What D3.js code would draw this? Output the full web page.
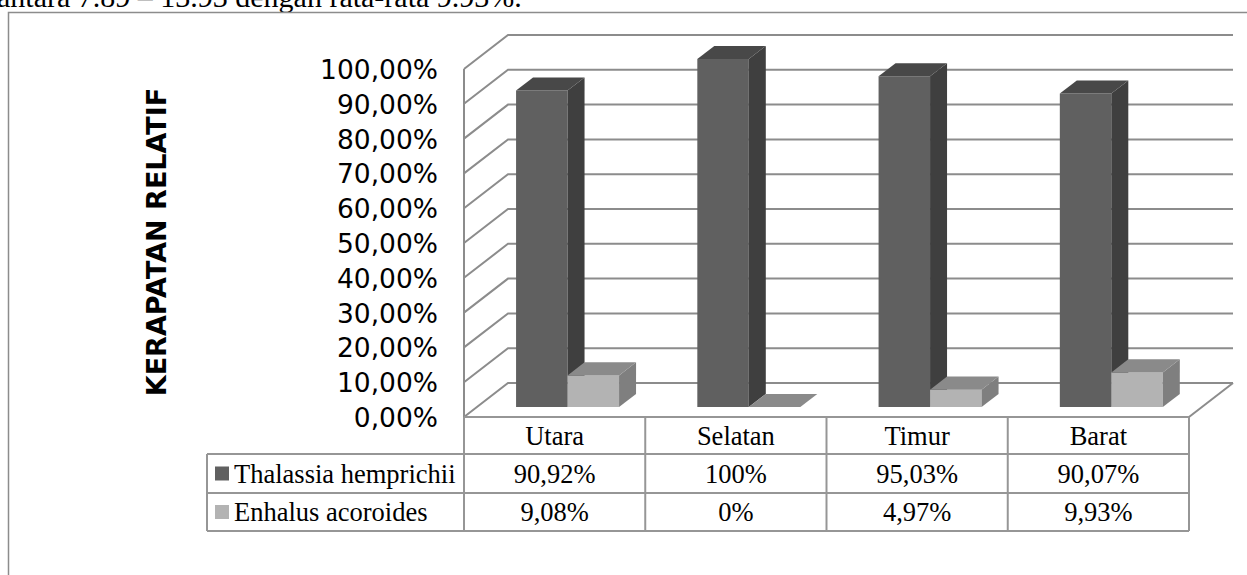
<!DOCTYPE html>
<html>
<head>
<meta charset="utf-8">
<script src="https://cdn.jsdelivr.net/npm/d3@7"></script>
<style>
  body { margin: 0; background: #fff; }
  svg { display: block; }
</style>
</head>
<body>
<div id="chart"></div>
<script>
// data
var categories = ["Utara", "Selatan", "Timur", "Barat"];
var seriesNames = ["Thalassia hemprichii", "Enhalus acoroides"];
var thalassia = [90.92, 100, 95.03, 90.07];
var enhalus = [9.08, 0, 4.97, 9.93];
var yTicks = [0, 10, 20, 30, 40, 50, 60, 70, 80, 90, 100];

var W = 1247, H = 575;

var svg = d3.select("#chart").append("svg")
    .attr("width", W)
    .attr("height", H);

// text of the page above the figure (cut off)
svg.append("text")
    .attr("x", -3)
    .attr("y", 7)
    .attr("font-family", "Liberation Serif, Times New Roman, serif")
    .attr("font-size", "30px")
    .text("antara 7.89 \u2013 13.93 dengan rata-rata 9.93%.");

// outer frame
svg.append("rect")
    .attr("x", 8.5).attr("y", 12.5)
    .attr("width", 1260).attr("height", 600)
    .attr("fill", "none")
    .attr("stroke", "#8c8c8c")
    .attr("stroke-width", 1.5);

// 3d layout
var plot = { left: 464, right: 1189, base: 417, height: 348 };
var depth = { dx: 44, dy: -34 };

function px(x, d) { return x + d * depth.dx; }
function py(h, d) { return plot.base - h + d * depth.dy; }

var y = d3.scaleLinear().domain([0, 100]).range([0, plot.height]);

var x = d3.scaleBand()
    .domain(categories)
    .range([plot.left, plot.right])
    .padding(0);

var xs = d3.scaleBand()
    .domain(seriesNames)
    .range([0, x.bandwidth()])
    .paddingInner(0)
    .paddingOuter(0.76);

var gridColor = "#8c8c8c";

// walls + gridlines
var grid = svg.append("g");
yTicks.forEach(function(t){
  var h = y(t);
  grid.append("path")
      .attr("d", "M" + px(plot.left, 0) + "," + py(h, 0) +
                 "L" + px(plot.left, 1) + "," + py(h, 1) +
                 "L" + px(plot.right, 1) + "," + py(h, 1))
      .attr("fill", "none")
      .attr("stroke", gridColor)
      .attr("stroke-width", 2);
});
// left wall front edge
grid.append("line")
    .attr("x1", plot.left).attr("x2", plot.left)
    .attr("y1", py(y(100), 0)).attr("y2", py(0, 0))
    .attr("stroke", gridColor).attr("stroke-width", 2);
// floor right edge
grid.append("line")
    .attr("x1", px(plot.right, 0)).attr("y1", py(0, 0))
    .attr("x2", px(plot.right, 1)).attr("y2", py(0, 1))
    .attr("stroke", gridColor).attr("stroke-width", 2);

// y tick labels
svg.append("g").selectAll("text")
    .data(yTicks)
    .enter().append("text")
    .attr("x", 438)
    .attr("y", function(d){ return py(y(d), 0) + 10; })
    .attr("text-anchor", "end")
    .attr("font-family", "DejaVu Sans, Verdana, sans-serif")
    .attr("font-size", "26.5px")
    .attr("fill", "#000")
    .text(function(d){ return d + ",00%"; });

// y title
svg.append("text")
    .attr("transform", "translate(166,242) rotate(-90)")
    .attr("text-anchor", "middle")
    .attr("font-family", "DejaVu Sans, Verdana, sans-serif")
    .attr("font-weight", "bold")
    .attr("font-size", "27px")
    .text("KERAPATAN RELATIF");

// bars
var d0 = 0.294, d1 = 0.68;
var colors = [
  { front: "#606060", side: "#3f3f3f", top: "#484848" },
  { front: "#b3b3b3", side: "#7f7f7f", top: "#8a8a8a" }
];
var seriesValues = [thalassia, enhalus];

var bars = svg.append("g");
categories.forEach(function(cat, i){
  seriesNames.forEach(function(s, j){
    var v = seriesValues[j][i];
    var c = colors[j];
    var xl = x(cat) + xs(s), xr = xl + xs.bandwidth();
    var h = y(v);
    var g = bars.append("g");
    if (h > 0) {
      // front face
      g.append("path")
          .attr("d", "M" + px(xl, d0) + "," + py(0, d0) +
                     "L" + px(xl, d0) + "," + py(h, d0) +
                     "L" + px(xr, d0) + "," + py(h, d0) +
                     "L" + px(xr, d0) + "," + py(0, d0) + "Z")
          .attr("fill", c.front);
      // side face
      g.append("path")
          .attr("d", "M" + px(xr, d0) + "," + py(0, d0) +
                     "L" + px(xr, d0) + "," + py(h, d0) +
                     "L" + px(xr, d1) + "," + py(h, d1) +
                     "L" + px(xr, d1) + "," + py(0, d1) + "Z")
          .attr("fill", c.side);
    }
    // top face
    g.append("path")
        .attr("d", "M" + px(xl, d0) + "," + py(h, d0) +
                   "L" + px(xl, d1) + "," + py(h, d1) +
                   "L" + px(xr, d1) + "," + py(h, d1) +
                   "L" + px(xr, d0) + "," + py(h, d0) + "Z")
        .attr("fill", c.top);
  });
});

// data table
var tableColor = "#969696";
var rowTop = [417, 454, 493, 531];
var tableLeft = 207;
var tfont = "Liberation Serif, Times New Roman, serif";
var tsize = "26.5px";

var tbl = svg.append("g").attr("stroke", tableColor).attr("stroke-width", 2);
// horizontal lines
tbl.append("line").attr("x1", plot.left).attr("x2", plot.right).attr("y1", rowTop[0]).attr("y2", rowTop[0]);
[1, 2, 3].forEach(function(r){
  tbl.append("line").attr("x1", tableLeft).attr("x2", plot.right)
      .attr("y1", rowTop[r]).attr("y2", rowTop[r]);
});
// vertical lines
tbl.append("line").attr("x1", tableLeft).attr("x2", tableLeft).attr("y1", rowTop[1]).attr("y2", rowTop[3]);
categories.forEach(function(cat){
  tbl.append("line").attr("x1", x(cat)).attr("x2", x(cat)).attr("y1", rowTop[0]).attr("y2", rowTop[3]);
});
tbl.append("line").attr("x1", plot.right).attr("x2", plot.right).attr("y1", rowTop[0]).attr("y2", rowTop[3]);

function fmt(v) {
  return (v % 1 === 0 ? String(v) : v.toFixed(2).replace(".", ",")) + "%";
}

var txt = svg.append("g")
    .attr("font-family", tfont)
    .attr("font-size", tsize)
    .attr("fill", "#000");

// header
txt.selectAll(".hdr").data(categories).enter().append("text")
    .attr("x", function(d){ return x(d) + x.bandwidth() / 2; })
    .attr("y", (rowTop[0] + rowTop[1]) / 2 + 9)
    .attr("text-anchor", "middle")
    .text(function(d){ return d; });

seriesNames.forEach(function(s, j){
  var cy = (rowTop[j + 1] + rowTop[j + 2]) / 2;
  svg.append("rect")
      .attr("x", 215).attr("y", cy - 7)
      .attr("width", 14).attr("height", 14)
      .attr("fill", colors[j].front);
  txt.append("text")
      .attr("x", 234).attr("y", cy + 9)
      .text(s);
  txt.selectAll(".v" + j).data(seriesValues[j]).enter().append("text")
      .attr("x", function(d, i){ return x(categories[i]) + x.bandwidth() / 2; })
      .attr("y", cy + 9)
      .attr("text-anchor", "middle")
      .text(function(d){ return fmt(d); });
});
</script>
</body>
</html>
